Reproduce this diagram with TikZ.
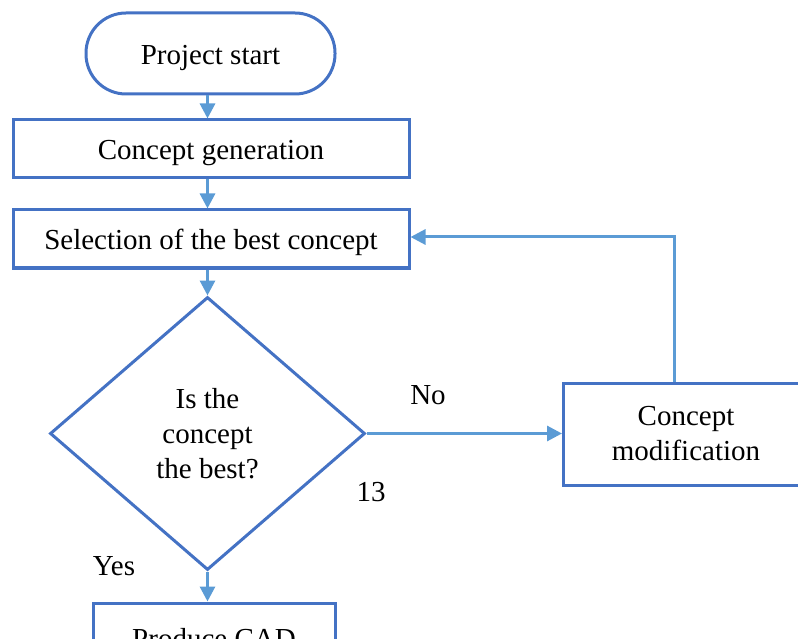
\documentclass[tikz,border=0pt]{standalone}
\usepackage{fontspec}
\setmainfont{Liberation Serif}
\usetikzlibrary{shapes.geometric,arrows.meta}
\definecolor{boxblue}{HTML}{4472C4}
\definecolor{arrblue}{HTML}{5B9BD5}
\begin{document}
\begin{tikzpicture}[x=1pt,y=-1pt,
  every node/.style={font=\fontsize{29}{35}\selectfont},
  box/.style={draw=boxblue,line width=3pt,rectangle,inner sep=0pt,align=center},
  oneline/.style={text height=22pt,text depth=0pt},
  term/.style={box,rounded corners=40pt},
  dec/.style={draw=boxblue,line width=3pt,diamond,inner sep=0pt,align=center},
  arr/.style={draw=arrblue,line width=3pt,-{Triangle[width=15pt,length=15pt]}},
  lbl/.style={inner sep=0pt}]
\clip (0,0) rectangle (798,639);
\node[term,oneline,minimum width=249pt,minimum height=81pt] (start) at (210.5,53.5) {Project start};
\node[box,oneline,minimum width=396pt,minimum height=58pt] (gen) at (211,149) {Concept generation};
\node[box,oneline,minimum width=396pt,minimum height=58pt] (sel) at (211,239) {Selection of the best concept};
\node[dec,minimum width=315pt,minimum height=273pt] (dia) at (207.5,433.5) {Is the\\concept\\the best?};
\node[box,minimum width=245pt,minimum height=102pt] (mod) at (686,434) {Concept\\modification};
\node[box,minimum width=242pt,minimum height=72pt] (cad) at (214,639) {Produce CAD};
\node[lbl] (no) at (428,395) {No};
\node[lbl] (num) at (371,492) {13};
\node[lbl] (yes) at (114,566) {Yes};
\coordinate (fb) at (674,237);
\draw[arr] (start.south -| dia) -- (gen.north -| dia);
\draw[arr] (gen.south -| dia) -- (sel.north -| dia);
\draw[arr] (sel.south -| dia) -- (dia.north);
\draw[arr] (dia.east) -- (dia.east -| mod.west);
\draw[arr] (mod.north -| fb) -- (fb) -- (fb -| sel.east);
\draw[arr] (dia.south) -- (cad.north -| dia);
\end{tikzpicture}
\end{document}
